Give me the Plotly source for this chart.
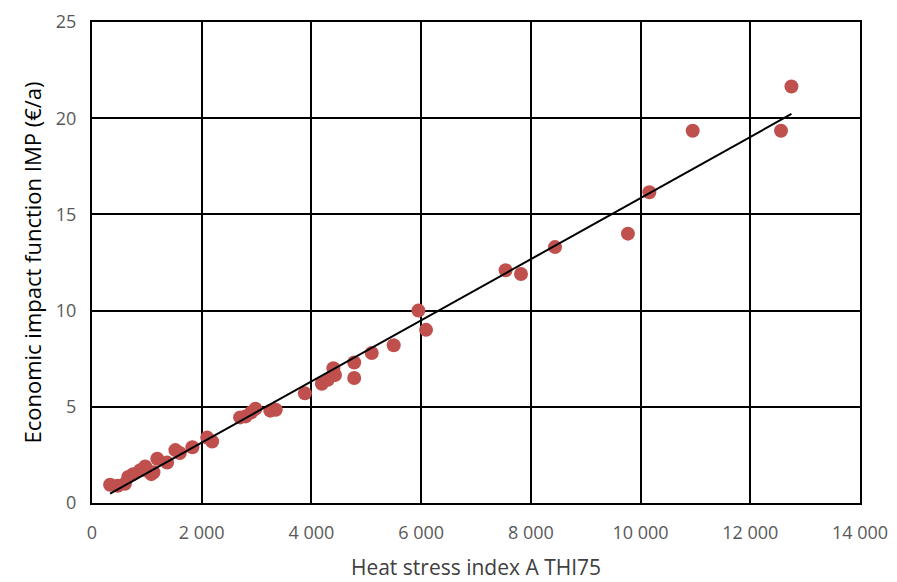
import numpy as np
import plotly.graph_objects as go

# Heat stress index (A THI75) and economic impact IMP (€/a)
thi75 = [330, 470, 600, 660, 750, 880, 970, 1000, 1080, 1120, 1190, 1370,
         1520, 1600, 1830, 2100, 2190, 2700, 2800, 2900, 2980, 3250, 3350,
         3880, 4190, 4300, 4400, 4430, 4780, 4780, 5100, 5500, 5950, 6090,
         7540, 7820, 8440, 9770, 10160, 10950, 12560, 12750]
imp = [0.95, 0.9, 1.0, 1.35, 1.5, 1.7, 1.9, 1.7, 1.5, 1.6, 2.3, 2.1,
       2.75, 2.6, 2.9, 3.4, 3.2, 4.45, 4.5, 4.7, 4.9, 4.8, 4.85,
       5.7, 6.2, 6.4, 7.0, 6.65, 7.3, 6.5, 7.8, 8.2, 10.0, 9.0,
       12.1, 11.9, 13.3, 14.0, 16.15, 19.35, 19.35, 21.65]

x_ticks = [0, 2000, 4000, 6000, 8000, 10000, 12000, 14000]
x_tick_labels = ["0", "2 000", "4 000", "6 000", "8 000", "10 000", "12 000", "14 000"]
y_ticks = [0, 5, 10, 15, 20, 25]

# Linear trend line over the observed range
slope, intercept = np.polyfit(thi75, imp, 1)
trend_x = [min(thi75), max(thi75)]
trend_y = [slope * v + intercept for v in trend_x]

fig = go.Figure()
fig.add_trace(go.Scatter(
    x=thi75, y=imp, mode="markers",
    marker=dict(size=14, color="#C0504D", line=dict(width=0)),
    showlegend=False,
))
fig.add_trace(go.Scatter(
    x=trend_x, y=trend_y, mode="lines",
    line=dict(color="black", width=2),
    showlegend=False,
))

font_family = "Open Sans"
fig.update_layout(
    width=897, height=582,
    margin=dict(l=92, r=37, t=22, b=79),
    paper_bgcolor="white", plot_bgcolor="white",
    font=dict(family=font_family, size=18, color="#595959"),
    xaxis=dict(
        range=[0, 14000], tickvals=x_ticks, ticktext=x_tick_labels,
        showgrid=True, gridcolor="black", gridwidth=2,
        showline=True, linecolor="black", linewidth=2, mirror=True,
        zeroline=False, ticks="", ticklabelstandoff=12, automargin=False,
        title=dict(text="Heat stress index A THI75", standoff=18,
                   font=dict(size=21, color="#404040")),
    ),
    yaxis=dict(
        range=[0, 25], tickvals=y_ticks,
        showgrid=True, gridcolor="black", gridwidth=2,
        showline=True, linecolor="black", linewidth=2, mirror=True,
        zeroline=False, ticks="", ticklabelstandoff=10, automargin=False,
        title=dict(text="Economic impact function IMP (€/a)", standoff=8,
                   font=dict(size=22, color="#000000")),
    ),
)

fig.write_html("out.html")
